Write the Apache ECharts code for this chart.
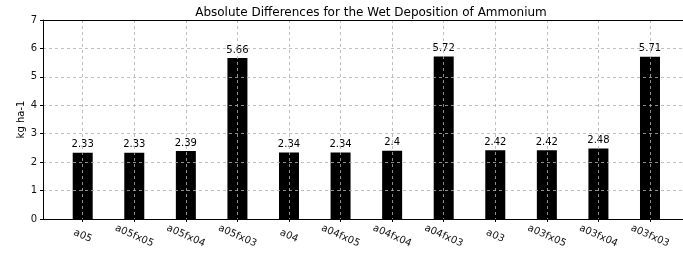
<!DOCTYPE html>
<html>
<head>
<meta charset="utf-8">
<script src="https://cdn.jsdelivr.net/npm/echarts@6/dist/echarts.min.js"></script>
<style>
  html, body { margin: 0; padding: 0; background: #fff; }
  #chart { width: 683px; height: 258px; }
</style>
</head>
<body>
<div id="chart"></div>
<script>
// scenario names, one per bar
const categories = ['a05', 'a05fx05', 'a05fx04', 'a05fx03', 'a04', 'a04fx05', 'a04fx04', 'a04fx03', 'a03', 'a03fx05', 'a03fx04', 'a03fx03'];
// absolute difference, kg ha-1
const values = [2.33, 2.33, 2.39, 5.66, 2.34, 2.34, 2.4, 5.72, 2.42, 2.42, 2.48, 5.71];
const yTicks = [0, 1, 2, 3, 4, 5, 6, 7];

const chart = echarts.init(document.getElementById('chart'), null, { renderer: 'canvas' });
const font = 'DejaVu Sans';

const barData = values.map(function (v, i) { return [i, v]; });
const xPos = categories.map(function (c, i) { return i; });

const option = {
  animation: false,
  title: {
    text: 'Absolute Differences for the Wet Deposition of Ammonium',
    left: 366,
    textAlign: 'center',
    top: 2,
    textStyle: { fontFamily: font, fontSize: 12, fontWeight: 'normal', color: '#000' }
  },
  grid: { left: 43, right: 0, top: 20, bottom: 39 },
  xAxis: [
    {
      type: 'value',
      min: -0.77,
      max: 11.64,
      z: 5,
      axisLine: { show: true, onZero: false, lineStyle: { color: '#000', width: 1 } },
      axisTick: { show: true, length: 3, customValues: xPos, lineStyle: { color: '#000' } },
      axisLabel: {
        customValues: xPos,
        rotate: -24,
        align: 'center',
        margin: 17,
        fontFamily: font,
        fontSize: 10,
        color: '#111',
        formatter: function (v) {
          return categories[Math.round(v)] || '';
        }
      },
      splitLine: { show: true, lineStyle: { color: '#b0b0b0', type: [3, 3], width: 0.8 } }
    },
    {
      type: 'value',
      position: 'top',
      min: -0.77,
      max: 11.64,
      z: 8,
      axisLine: { show: true, onZero: false, lineStyle: { color: '#000', width: 1 } },
      axisTick: { show: false },
      axisLabel: { show: false },
      splitLine: { show: false }
    }
  ],
  yAxis: {
    type: 'value',
    min: 0,
    max: 7,
    interval: 1,
    z: 5,
    name: 'kg ha-1',
    nameLocation: 'middle',
    nameGap: 17,
    nameMoveOverlap: false,
    nameTextStyle: { fontFamily: font, fontSize: 10, color: '#000' },
    axisLine: { show: true, onZero: false, lineStyle: { color: '#000', width: 1 } },
    axisTick: { show: true, length: 3, lineStyle: { color: '#000' } },
    axisLabel: {
      fontFamily: font, fontSize: 10, color: '#111', margin: 6,
      formatter: function (v) { return yTicks.indexOf(v) >= 0 ? String(v) : ''; }
    },
    splitLine: { show: true, lineStyle: { color: '#b0b0b0', type: [3, 3], width: 0.8 } }
  },
  series: [{
    type: 'bar',
    data: barData,
    barWidth: 20,
    itemStyle: { color: '#000' },
    label: {
      show: true,
      position: 'top',
      distance: 3,
      fontFamily: font,
      fontSize: 10,
      color: '#000',
      formatter: function (p) { return String(p.value[1]); }
    }
  }]
};

chart.setOption(option);
</script>
</body>
</html>
